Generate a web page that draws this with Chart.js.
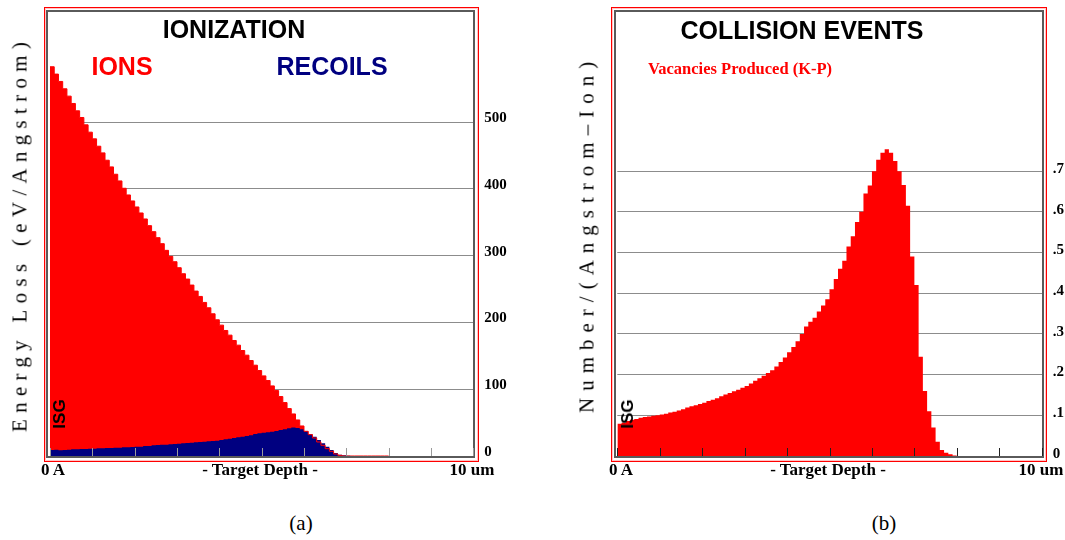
<!DOCTYPE html>
<html>
<head>
<meta charset="utf-8">
<script src="https://cdn.jsdelivr.net/npm/chart.js@4.4.1/dist/chart.umd.min.js"></script>
<style>
  body { margin: 0; background: #fff; }
  #page { position: relative; width: 1065px; height: 540px; overflow: hidden; background: #fff; }
  .frame-red { position: absolute; border: 1px solid #ff0000; box-shadow: inset 0 0 0 1px #ffc4c4; box-sizing: border-box; }
  .frame-in { position: absolute; border: 2px solid #5a5a5a; box-sizing: border-box; }
  .holder { position: absolute; top: 0; }
  .txt { position: absolute; transform: translate(-50%, -50%); white-space: nowrap; line-height: 1; }
  .title { font: bold 25px "Liberation Sans", Arial, sans-serif; color: #000; }
  .axis { font: bold 17px "Liberation Serif", "Times New Roman", serif; color: #000; }
  .ytitle { font: 21px "Liberation Serif", "Times New Roman", serif; color: #000; transform: translate(-50%, -50%) rotate(-90deg); }
  .isg { font: bold 17px "Liberation Sans", Arial, sans-serif; color: #000; transform: translate(-50%, -50%) rotate(-90deg); }
  .caption { font: 21px "Liberation Serif", "Times New Roman", serif; color: #000; }
</style>
</head>
<body>
<div id="page">
  <div class="frame-red" style="left:44px; top:7px; width:435px; height:455px;"></div>
  <div class="frame-in" style="left:46px; top:10px; width:429px; height:448px;"></div>
  <div class="frame-red" style="left:611px; top:7px; width:436px; height:455px;"></div>
  <div class="frame-in" style="left:614px; top:10px; width:430px; height:448px;"></div>

  <div class="holder" style="left:0px;"><canvas id="ionChart" width="532" height="490"></canvas></div>
  <div class="holder" style="left:560px;"><canvas id="vacChart" width="505" height="490"></canvas></div>

  <div class="txt title" style="left:234px; top:29px;">IONIZATION</div>
  <div class="txt title" style="left:122px; top:66px; color:#ff0000;">IONS</div>
  <div class="txt title" style="left:332px; top:66px; color:#000080;">RECOILS</div>
  <div class="txt title" style="left:802px; top:30px;">COLLISION EVENTS</div>
  <div class="txt" style="left:740px; top:69px; font:bold 16.5px 'Liberation Serif', serif; color:#ff0000;">Vacancies Produced (K-P)</div>

  <div class="txt ytitle" style="left:20px; top:234px; letter-spacing:6.3px;">Energy Loss (eV/Angstrom)</div>
  <div class="txt ytitle" style="left:587px; top:234px; letter-spacing:7px;">Number/(Angstrom–Ion)</div>

  <div class="txt isg" style="left:60px; top:414px;">ISG</div>
  <div class="txt isg" style="left:628px; top:414px;">ISG</div>

  <div class="txt axis" style="left:53px; top:470px;">0 A</div>
  <div class="txt axis" style="left:260px; top:470px;">- Target Depth -</div>
  <div class="txt axis" style="left:472px; top:470px;">10 um</div>
  <div class="txt axis" style="left:621px; top:470px;">0 A</div>
  <div class="txt axis" style="left:828px; top:470px;">- Target Depth -</div>
  <div class="txt axis" style="left:1041px; top:470px;">10 um</div>

  <div class="txt caption" style="left:301px; top:523px;">(a)</div>
  <div class="txt caption" style="left:884px; top:523px;">(b)</div>
</div>
<script>
// depth bins (um), one value per 0.1 um bin
const DEPTH_UM = [
  0.0, 0.1, 0.2, 0.3, 0.4, 0.5, 0.6, 0.7, 0.8, 0.9,
  1.0, 1.1, 1.2, 1.3, 1.4, 1.5, 1.6, 1.7, 1.8, 1.9,
  2.0, 2.1, 2.2, 2.3, 2.4, 2.5, 2.6, 2.7, 2.8, 2.9,
  3.0, 3.1, 3.2, 3.3, 3.4, 3.5, 3.6, 3.7, 3.8, 3.9,
  4.0, 4.1, 4.2, 4.3, 4.4, 4.5, 4.6, 4.7, 4.8, 4.9,
  5.0, 5.1, 5.2, 5.3, 5.4, 5.5, 5.6, 5.7, 5.8, 5.9,
  6.0, 6.1, 6.2, 6.3, 6.4, 6.5, 6.6, 6.7, 6.8, 6.9,
  7.0, 7.1, 7.2, 7.3, 7.4, 7.5, 7.6, 7.7, 7.8, 7.9,
  8.0
];

// energy loss, eV/Angstrom
const IONS = [
  583, 572, 561, 550, 539, 528, 517, 507, 496, 485,
  475, 464, 454, 443, 433, 422, 412, 401, 391, 382,
  373, 364, 355, 345, 336, 327, 318, 308, 299, 291,
  282, 273, 265, 256, 247, 239, 230, 222, 213, 204,
  196, 188, 181, 173, 166, 158, 151, 143, 136, 128,
  120, 113, 105, 98, 89, 80, 71, 63, 54, 45,
  37, 32, 27, 21, 16, 11, 7, 3, 1, 0,
  0, 0, 0, 0, 0, 0, 0, 0, 0, 0,
  0
];
const RECOILS = [
  9, 9.5, 8.5, 9, 9.5, 10, 10, 10.5, 10.5, 11,
  11, 11.5, 11.5, 12, 12, 12.5, 12.5, 13, 13, 13.5,
  14, 14, 15, 15, 16, 16.5, 17, 17, 17.5, 18,
  18.5, 19, 19.5, 20, 20.5, 21, 21.5, 22, 22.5, 23,
  24, 25, 26, 27, 28, 29, 30, 31, 33, 34,
  35, 35.5, 36.5, 37.5, 39, 40, 41.5, 42.5, 42, 40,
  37, 33, 29, 24, 19, 14, 9, 4.5, 2, 1,
  0.5, 0, 0, 0, 0, 0, 0, 0, 0, 0,
  0
];

// vacancies, number/(Angstrom-Ion)
const VACANCIES = [
  0.079, 0.082, 0.086, 0.089, 0.091, 0.094, 0.096, 0.097, 0.099, 0.100,
  0.102, 0.104, 0.107, 0.109, 0.112, 0.115, 0.119, 0.122, 0.125, 0.128,
  0.131, 0.135, 0.138, 0.142, 0.147, 0.151, 0.155, 0.159, 0.163, 0.168,
  0.172, 0.178, 0.185, 0.191, 0.197, 0.204, 0.211, 0.220, 0.231, 0.242,
  0.255, 0.268, 0.282, 0.300, 0.318, 0.330, 0.340, 0.355, 0.370, 0.385,
  0.410, 0.435, 0.460, 0.480, 0.515, 0.540, 0.575, 0.600, 0.645, 0.665,
  0.700, 0.728, 0.745, 0.754, 0.745, 0.725, 0.700, 0.666, 0.615, 0.490,
  0.420, 0.244, 0.160, 0.110, 0.070, 0.035, 0.015, 0.008, 0.004, 0.001,
  0
];

const X_TICKS_UM = [0, 1, 2, 3, 4, 5, 6, 7, 8, 9, 10];
const ENERGY_TICKS = ['0', '100', '200', '300', '400', '500'];
const VAC_TICKS = ['0', '.1', '.2', '.3', '.4', '.5', '.6', '.7'];

function pts(values) {
  return DEPTH_UM.map((x, i) => ({ x: x, y: values[i] }));
}

// small tick marks pointing up from the baseline
const depthTicks = {
  id: 'depthTicks',
  afterDatasetsDraw(chart, args, opts) {
    const { ctx, chartArea, scales } = chart;
    ctx.save();
    ctx.strokeStyle = opts.color;
    ctx.lineWidth = 1;
    X_TICKS_UM.forEach(v => {
      const px = Math.round(scales.x.getPixelForValue(v)) + 0.5;
      ctx.beginPath();
      ctx.moveTo(px, chartArea.bottom);
      ctx.lineTo(px, chartArea.bottom - 8);
      ctx.stroke();
    });
    ctx.restore();
  }
};

const tickFont = { family: 'Liberation Serif', weight: 'bold', size: 15 };

// keep the plot box fixed: no extra room for half tick labels
function fixWidth(w) {
  return s => { s.width = w; s.paddingTop = 0; s.paddingBottom = 0; };
}

new Chart(document.getElementById('ionChart'), {
  type: 'line',
  data: {
    datasets: [
      { label: 'IONS edge', data: pts(IONS), stepped: true, borderColor: '#ff0000', borderWidth: 1, fill: false, pointRadius: 0, order: 0 },
      { label: 'RECOILS', data: pts(RECOILS), stepped: true, borderWidth: 0, backgroundColor: '#000080', fill: 'origin', pointRadius: 0, order: 1 },
      { label: 'IONS', data: pts(IONS), stepped: true, borderWidth: 0, backgroundColor: '#ff0000', fill: 'origin', pointRadius: 0, order: 2 }
    ]
  },
  options: {
    responsive: false,
    animation: false,
    events: [],
    layout: { padding: { left: 50, top: 10, bottom: 34, right: 0 } },
    plugins: { legend: { display: false }, tooltip: { enabled: false }, depthTicks: { color: '#9a9a9a' } },
    scales: {
      x: { type: 'linear', min: 0, max: 10, display: false },
      y: {
        position: 'right', min: 0, max: 668, z: 1,
        afterFit: fixWidth(58.7),
        border: { display: false },
        grid: { drawTicks: false, color: c => (c.tick.value > 0 && c.tick.value <= 500) ? '#8c8c8c' : 'rgba(0,0,0,0)' },
        ticks: {
          stepSize: 100, padding: 11, labelOffset: -4, color: '#000', font: tickFont,
          callback: v => ENERGY_TICKS[v / 100] ?? ''
        }
      }
    }
  },
  plugins: [depthTicks]
});

new Chart(document.getElementById('vacChart'), {
  type: 'line',
  data: {
    datasets: [
      { label: 'Vacancies Produced (K-P)', data: pts(VACANCIES), stepped: true, borderWidth: 0, backgroundColor: '#ff0000', fill: 'origin', pointRadius: 0 }
    ]
  },
  options: {
    responsive: false,
    animation: false,
    events: [],
    layout: { padding: { left: 57.3, top: 10, bottom: 34, right: 0 } },
    plugins: { legend: { display: false }, tooltip: { enabled: false }, depthTicks: { color: '#202020' } },
    scales: {
      x: { type: 'linear', min: 0, max: 10, display: false },
      y: {
        position: 'right', min: 0, max: 1.096, z: 1,
        afterFit: fixWidth(23.3),
        border: { display: false },
        grid: { drawTicks: false, color: c => (c.tick.value > 0.05 && c.tick.value < 0.75) ? '#8c8c8c' : 'rgba(0,0,0,0)' },
        ticks: {
          stepSize: 0.1, padding: 11, labelOffset: -2, color: '#000', font: tickFont,
          callback: v => {
            const k = Math.round(v * 10);
            return Math.abs(v * 10 - k) < 1e-6 ? (VAC_TICKS[k] ?? '') : '';
          }
        }
      }
    }
  },
  plugins: [depthTicks]
});
</script>
</body>
</html>
